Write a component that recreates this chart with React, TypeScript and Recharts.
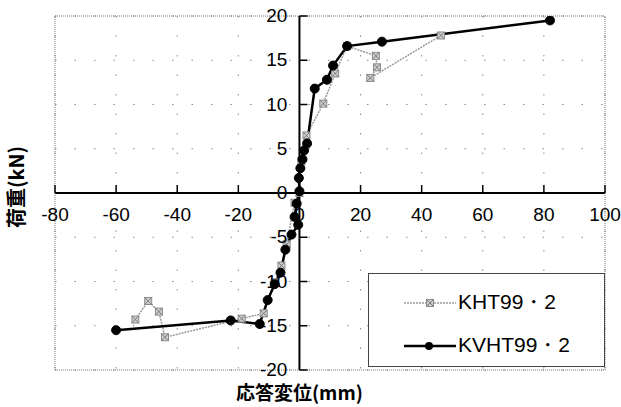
import React from "react";
import { LineChart, Line, XAxis, YAxis, CartesianGrid, ReferenceLine } from "recharts";

// ---- data ----
const khtX = [-53.7, -49.5, -46, -44, -18.9, -11.7, -8.1, -5.9, -4.2, -1.6, 0, 0.6, 2.3, 7.8, 11.7, 15.6, 25, 25.4, 23.2, 46.3];
const khtY = [-14.3, -12.2, -13.4, -16.3, -14.2, -13.6, -10.1, -8.2, -5.8, -1.1, 0, 3.6, 6.5, 10.1, 13.5, 16.6, 15.5, 14.2, 13.0, 17.8];
const kvhtX = [-60, -22.5, -13, -10.4, -8.1, -6.2, -4.6, -2.6, -0.4, -1.6, -0.9, 0, -0.2, 0.3, 1.0, 1.5, 2.5, 5, 9, 11, 15.6, 27, 82];
const kvhtY = [-15.5, -14.4, -14.8, -12.1, -10.3, -9.0, -6.4, -4.7, -3.6, -2.7, -1.2, 0.2, 1.7, 2.8, 3.8, 4.8, 5.6, 11.8, 12.8, 14.4, 16.6, 17.1, 19.5];
const xTicks = [-80, -60, -40, -20, 0, 20, 40, 60, 80, 100];
const yTicks = [-20, -15, -10, -5, 0, 5, 10, 15, 20];
const seriesNames = ["KHT99・2", "KVHT99・2"];
const xTitle = "応答変位(mm)";
const yTitle = "荷重(kN)";

const khtData = khtX.map((x, i) => ({ x, y: khtY[i] }));
const kvhtData = kvhtX.map((x, i) => ({ x, y: kvhtY[i] }));

// ---- layout ----
const W = 621;
const H = 407;
const XAXIS_H = 30;
const YAXIS_W = 30;
const M = { top: 16, right: 16, bottom: 37 - XAXIS_H, left: 55 - YAXIS_W };
const X_MIN = -80, X_MAX = 100, Y_MIN = -20, Y_MAX = 20;
const PLOT_L = 55;
const PLOT_W = W - PLOT_L - M.right;
const PLOT_H = H - M.top - 37;
const zeroY = M.top + PLOT_H * (Y_MAX / (Y_MAX - Y_MIN));
const zeroX = PLOT_L + PLOT_W * ((0 - X_MIN) / (X_MAX - X_MIN));
const FONT = "'Liberation Sans', Arial, sans-serif";
const CJK = "'Noto Sans CJK JP', sans-serif";

const XTick = (props: any) => {
  const { x, payload } = props;
  return (
    <g>
      <line x1={x} x2={x} y1={zeroY} y2={zeroY - 8} stroke="#000" strokeWidth={1.5} />
      <text x={x} y={zeroY + 23} textAnchor="middle" dominantBaseline="middle" fontFamily={FONT} fontSize={19} fill="#000">
        {payload.value}
      </text>
    </g>
  );
};

const YTick = (props: any) => {
  const { y, payload } = props;
  return (
    <g>
      <line x1={zeroX} x2={zeroX + 8} y1={y} y2={y} stroke="#000" strokeWidth={1.5} />
      <text x={zeroX - 12} y={y + 1} textAnchor="end" dominantBaseline="middle" fontFamily={FONT} fontSize={19} fill="#000">
        {payload.value}
      </text>
    </g>
  );
};

const GrayDot = (props: any) => {
  const { cx, cy, index } = props;
  if (cx == null || cy == null) return null;
  return (
    <g key={"g" + index}>
      <rect x={cx - 3.5} y={cy - 3.5} width={7} height={7} fill="#cfcfcf" stroke="#8a8a8a" strokeWidth={1} />
      <path d={`M${cx - 3.5},${cy - 3.5}L${cx + 3.5},${cy + 3.5}M${cx + 3.5},${cy - 3.5}L${cx - 3.5},${cy + 3.5}`} stroke="#7a7a7a" strokeWidth={1} />
    </g>
  );
};

const BlackDot = (props: any) => {
  const { cx, cy, index } = props;
  if (cx == null || cy == null) return null;
  return <circle key={"b" + index} cx={cx} cy={cy} r={4.5} fill="#000" stroke="#000" />;
};

const LegendBox = () => (
  <div style={{ position: "absolute", left: 368, top: 273, width: 237, height: 94, border: "1px solid #444", background: "#fff", boxSizing: "border-box" }}>
    <svg width={235} height={92}>
      <line x1={35} x2={87} y1={29} y2={29} stroke="#999" strokeWidth={1.5} strokeDasharray="2 1" />
      <GrayDot cx={61} cy={29} index={0} />
      <text x={89} y={29} dominantBaseline="middle" fontFamily={FONT} fontSize={21} fill="#000">{seriesNames[0]}</text>
      <line x1={35} x2={87} y1={72} y2={72} stroke="#000" strokeWidth={2.5} />
      <circle cx={60} cy={72} r={4} fill="#000" />
      <text x={89} y={72} dominantBaseline="middle" fontFamily={FONT} fontSize={21} fill="#000">{seriesNames[1]}</text>
    </svg>
  </div>
);

export default function App() {
  return (
    <div style={{ position: "absolute", left: 0, top: 0, width: W, height: H, background: "#fff" }}>
      <LineChart width={W} height={H} margin={M}>
        <CartesianGrid stroke="#888" strokeDasharray="1.5 18" horizontalValues={yTicks} verticalValues={xTicks} />
        <XAxis
          dataKey="x"
          type="number"
          domain={[X_MIN, X_MAX]}
          ticks={xTicks}
          interval={0}
          height={XAXIS_H}
          axisLine={false}
          tickLine={false}
          tick={<XTick />}
          allowDataOverflow
        />
        <YAxis
          dataKey="y"
          type="number"
          domain={[Y_MIN, Y_MAX]}
          ticks={yTicks}
          interval={0}
          width={YAXIS_W}
          axisLine={false}
          tickLine={false}
          tick={<YTick />}
          allowDataOverflow
        />
        <ReferenceLine x={X_MIN} stroke="#777" strokeDasharray="1 1" />
        <ReferenceLine x={X_MAX} stroke="#777" strokeDasharray="1 1" />
        <ReferenceLine y={Y_MIN} stroke="#777" strokeDasharray="1 1" />
        <ReferenceLine y={Y_MAX} stroke="#777" strokeDasharray="1 1" />
        <ReferenceLine x={0} stroke="#000" strokeWidth={2} />
        <ReferenceLine y={0} stroke="#000" strokeWidth={2} />
        <Line
          data={khtData}
          dataKey="y"
          name={seriesNames[0]}
          stroke="#999"
          strokeWidth={1.5}
          strokeDasharray="2 1"
          dot={<GrayDot />}
          isAnimationActive={false}
        />
        <Line
          data={kvhtData}
          dataKey="y"
          name={seriesNames[1]}
          stroke="#000"
          strokeWidth={2.5}
          dot={<BlackDot />}
          isAnimationActive={false}
        />
      </LineChart>
      <LegendBox />
      <svg width={W} height={H} style={{ position: "absolute", left: 0, top: 0, pointerEvents: "none" }}>
        <text x={zeroX} y={395} textAnchor="middle" dominantBaseline="middle" fontFamily={CJK} fontWeight="bold" fontSize={19} fill="#000">
          {xTitle}
        </text>
        <text
          x={19}
          y={187}
          transform={`rotate(-90 19 187)`}
          textAnchor="middle"
          dominantBaseline="middle"
          fontFamily={CJK}
          fontWeight="bold"
          fontSize={20}
          fill="#000"
        >
          {yTitle}
        </text>
      </svg>
    </div>
  );
}
